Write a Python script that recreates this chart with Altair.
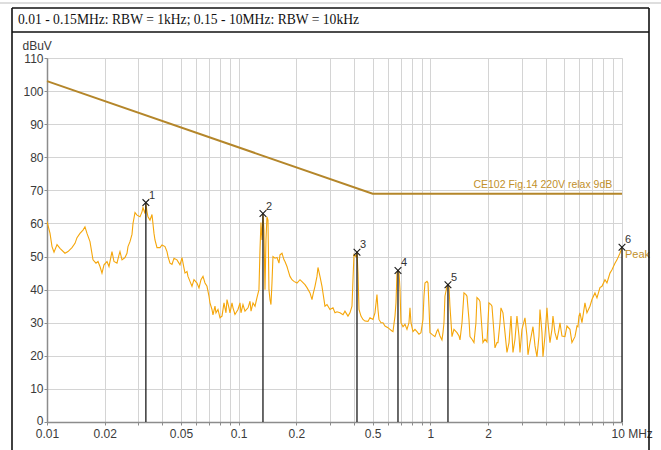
import altair as alt
import pandas as pd

# ---------------- data ----------------
freq_mhz = [
    0.0100, 0.01037, 0.01062, 0.01088, 0.01128, 0.01169, 0.01241, 0.01287, 0.0135, 0.0140,
    0.01434, 0.01486, 0.01541, 0.01578, 0.01617, 0.01676, 0.01738, 0.01801, 0.01845, 0.0189,
    0.01936, 0.01983, 0.02056, 0.02106, 0.02183, 0.02236, 0.02318, 0.02375, 0.02403, 0.02462,
    0.02552, 0.02614, 0.02646, 0.0271, 0.02776, 0.0281, 0.02878, 0.02948, 0.03056, 0.0313,
    0.03168, 0.03245, 0.03284, 0.03324, 0.03364, 0.03446, 0.0353, 0.03616, 0.03659, 0.03749,
    0.03886, 0.03981, 0.04127, 0.04227, 0.04279, 0.04382, 0.04489, 0.04598, 0.04766, 0.04942,
    0.05062, 0.05185, 0.05248, 0.05375, 0.0544, 0.05572, 0.05707, 0.05846, 0.06061, 0.06209,
    0.06359, 0.06515, 0.06673, 0.06835, 0.07001, 0.07085, 0.07257, 0.07345, 0.07524, 0.07614,
    0.078, 0.07989, 0.08185, 0.08384, 0.08587, 0.08692, 0.08903, 0.0901, 0.09229, 0.09342,
    0.09568, 0.09918, 0.1016, 0.1028, 0.1053, 0.1079, 0.1119, 0.1146, 0.116, 0.1188,
    0.1217, 0.1246, 0.1276, 0.1292, 0.1307, 0.1323, 0.1339, 0.1355, 0.1372, 0.1388,
    0.1405, 0.1422, 0.1439, 0.1457, 0.1474, 0.1492, 0.151, 0.1547, 0.1585, 0.1623,
    0.1643, 0.1683, 0.1724, 0.1744, 0.1787, 0.1808, 0.1852, 0.1897, 0.1943, 0.2015,
    0.2089, 0.214, 0.2218, 0.2272, 0.2356, 0.2413, 0.2442, 0.2501, 0.2562, 0.2593,
    0.2656, 0.2721, 0.2787, 0.282, 0.2889, 0.2995, 0.3105, 0.3181, 0.3259, 0.3378,
    0.3502, 0.3586, 0.3718, 0.3808, 0.3902, 0.3949, 0.3996, 0.4093, 0.4143, 0.4193,
    0.4244, 0.4346, 0.4452, 0.456, 0.4728, 0.4843, 0.502, 0.5142, 0.5267, 0.5331,
    0.5395, 0.5527, 0.5661, 0.5799, 0.6012, 0.6158, 0.6308, 0.6384, 0.654, 0.6619,
    0.6699, 0.678, 0.6862, 0.6945, 0.7029, 0.72, 0.7375, 0.7553, 0.7737, 0.783,
    0.7925, 0.8117, 0.8315, 0.8517, 0.8723, 0.8936, 0.9154, 0.9264, 0.9376, 0.9605,
    0.9721, 0.9838, 0.9957, 1.020, 1.057, 1.083, 1.096, 1.123, 1.150, 1.164,
    1.178, 1.192, 1.221, 1.236, 1.251, 1.266, 1.297, 1.328, 1.377, 1.411,
    1.428, 1.463, 1.498, 1.535, 1.553, 1.591, 1.610, 1.649, 1.689, 1.730,
    1.751, 1.794, 1.816, 1.860, 1.882, 1.928, 1.975, 1.998, 2.022, 2.072,
    2.097, 2.148, 2.174, 2.227, 2.254, 2.309, 2.336, 2.393, 2.452, 2.511,
    2.573, 2.635, 2.699, 2.765, 2.831, 2.901, 2.936, 3.007, 3.117, 3.193,
    3.232, 3.311, 3.432, 3.516, 3.601, 3.689, 3.733, 3.824, 3.870, 3.963,
    4.061, 4.110, 4.209, 4.311, 4.363, 4.469, 4.578, 4.690, 4.746, 4.862,
    5.040, 5.162, 5.351, 5.481, 5.683, 5.821, 5.891, 5.962, 6.035, 6.181,
    6.408, 6.564, 6.805, 6.971, 7.227, 7.403, 7.674, 7.861, 8.150, 8.347,
    8.655, 8.866, 9.190, 9.413, 9.757, 10.0,
]
level_dbuv = [
    60.6, 57.0, 53.0, 51.3, 53.6, 52.5, 51.0, 51.5, 52.7, 54.0,
    55.7, 57.0, 58.0, 59.0, 57.0, 54.5, 49.0, 48.0, 48.5, 47.0,
    45.0, 47.5, 48.5, 47.0, 51.5, 48.5, 48.0, 50.5, 51.5, 49.0,
    49.7, 51.0, 53.0, 54.5, 56.7, 60.0, 63.3, 62.5, 62.0, 63.5,
    64.8, 63.0, 65.8, 63.5, 62.0, 61.0, 62.7, 57.0, 55.0, 52.7,
    52.7, 53.5, 53.0, 51.5, 50.0, 48.0, 47.6, 49.5, 49.0, 47.5,
    49.7, 46.5, 45.0, 45.5, 44.0, 42.5, 41.0, 43.0, 42.0, 40.5,
    43.0, 44.0, 42.0, 41.0, 38.0, 36.0, 34.0, 32.4, 35.0, 33.0,
    34.0, 31.5, 32.0, 36.0, 33.0, 37.0, 34.5, 33.0, 36.0, 34.5,
    32.5, 34.0, 36.0, 33.0, 35.5, 33.5, 34.5, 36.5, 33.5, 36.0,
    35.0, 37.6, 40.0, 52.0, 60.3, 55.0, 62.7, 58.0, 40.0, 55.0,
    62.0, 61.0, 40.0, 37.0, 35.5, 42.0, 50.0, 49.5, 49.7, 48.0,
    50.5, 51.0, 49.0, 48.5, 47.0, 46.0, 44.0, 43.0, 42.5, 42.0,
    43.0, 42.4, 41.5, 40.6, 39.0, 37.0, 38.5, 41.0, 44.0, 46.7,
    44.0, 41.0, 37.0, 35.0, 35.5, 34.0, 34.5, 33.0, 33.3, 33.0,
    32.4, 33.5, 32.0, 33.0, 35.0, 43.0, 50.6, 50.0, 51.5, 45.0,
    34.0, 32.0, 31.0, 30.5, 30.4, 31.5, 31.0, 33.0, 38.5, 34.0,
    31.0, 30.0, 30.0, 29.0, 28.5, 28.0, 27.5, 27.3, 32.0, 36.0,
    45.0, 45.5, 45.5, 40.0, 30.0, 28.8, 29.5, 28.0, 30.0, 34.5,
    30.0, 27.3, 28.0, 27.3, 26.5, 27.0, 31.0, 38.0, 42.0, 42.5,
    42.0, 35.0, 27.0, 26.5, 25.8, 27.5, 28.0, 26.0, 24.8, 27.0,
    30.0, 38.0, 41.0, 41.5, 41.0, 35.0, 25.8, 28.0, 27.0, 26.0,
    24.8, 30.0, 39.0, 38.5, 38.0, 31.0, 25.8, 25.0, 24.0, 30.0,
    37.6, 37.0, 36.4, 28.0, 24.0, 25.0, 24.2, 30.0, 36.0, 35.5,
    35.0, 27.0, 22.4, 24.0, 24.0, 30.0, 34.5, 33.0, 27.0, 21.0,
    24.0, 32.0, 21.0, 25.0, 32.0, 26.0, 21.0, 28.0, 31.5, 26.0,
    20.3, 24.0, 28.8, 23.0, 19.7, 26.0, 34.0, 27.0, 19.7, 26.0,
    34.5, 30.0, 24.0, 28.0, 32.0, 27.0, 24.8, 28.0, 30.0, 26.0,
    25.8, 29.0, 28.0, 24.0, 25.8, 29.0, 28.8, 32.0, 33.0, 30.0,
    36.0, 33.0, 35.0, 37.0, 39.0, 37.5, 40.6, 41.0, 43.0, 42.0,
    45.0, 46.0, 48.0, 49.0, 51.0, 52.7,
]

limit_freq = [0.01, 0.5, 10.0]
limit_level = [103, 69, 69]
limit_name = "CE102 Fig.14 220V relax 9dB"

peak_id = ["1", "2", "3", "4", "5", "6"]
peak_freq = [0.0328, 0.1339, 0.4143, 0.678, 1.236, 10.0]
peak_level = [66.3, 63.0, 51.3, 45.8, 41.5, 52.8]

title_text = "0.01 - 0.15MHz: RBW = 1kHz; 0.15 - 10MHz: RBW = 10kHz"
y_ticks = list(range(0, 111, 10))
x_grid = [round(m * 10 ** e, 4) for e in (-2, -1, 0) for m in range(1, 10)] + [10.0]
x_label_vals = [0.01, 0.02, 0.05, 0.1, 0.2, 0.5, 1, 2]

TRACE = "#F5A60A"
LIMIT = "#B4862A"
LABEL_GOLD = "#C18F2A"
FONT = "Liberation Sans"

trace_df = pd.DataFrame({"f": freq_mhz, "v": level_dbuv})
limit_df = pd.DataFrame({"f": limit_freq, "v": limit_level})
peak_df = pd.DataFrame({"id": peak_id, "f": peak_freq, "v": peak_level})

xscale = alt.Scale(type="log", domain=[0.01, 10], nice=False)
yscale = alt.Scale(domain=[0, 110], nice=False, zero=False)

label_expr = (
    "datum.value == 10 ? '10 MHz' : (indexof(" + str(x_label_vals) +
    ", datum.value) >= 0 ? toString(datum.value) : '')"
)

x_axis = alt.Axis(
    values=x_grid, labelExpr=label_expr, title=None, grid=True,
    gridColor="#d4d4d4", gridWidth=1, domainColor="#8c8c8c", domainWidth=1.5,
    tickColor="#8c8c8c", tickSize=3, labelFont=FONT, labelFontSize=12,
    labelColor="#3a3a3a", labelPadding=3, labelOverlap=False, labelBound=False,
    labelFlush=False,
    labelAlign={"condition": {"test": "datum.value == 10", "value": "left"}, "value": "center"},
    labelOffset={"condition": {"test": "datum.value == 10", "value": -11}, "value": 0},
)
y_axis = alt.Axis(
    values=y_ticks, title="dBuV", titleAngle=0, titleX=-25, titleY=-13,
    titleAlign="left", titleBaseline="middle", titleFont=FONT, titleFontSize=12,
    titleFontWeight="normal", titleColor="#3a3a3a",
    grid=True, gridColor="#d4d4d4", gridWidth=1, domainColor="#8c8c8c",
    domainWidth=1.5, tickColor="#8c8c8c", tickSize=3, labelFont=FONT,
    labelFontSize=12, labelColor="#3a3a3a", labelPadding=1, labelFlush=False,
    labelOverlap=False, labelBound=False,
    labelOffset={"condition": {"test": "datum.value == 0", "value": -2}, "value": 0},
)

X = alt.X("f:Q", scale=xscale, axis=x_axis)
Y = alt.Y("v:Q", scale=yscale, axis=y_axis)

trace = alt.Chart(trace_df).mark_line(color=TRACE, strokeWidth=1.1, clip=True).encode(
    x=X, y=Y, order=alt.Order("f:Q"),
)
limit = alt.Chart(limit_df).mark_line(color=LIMIT, strokeWidth=2).encode(x=X, y=Y)
limit_label = alt.Chart(pd.DataFrame({"f": [8.9], "v": [69], "t": [limit_name]})).mark_text(
    align="right", baseline="bottom", dy=-4, font=FONT, fontSize=10.5, color=LABEL_GOLD
).encode(x=X, y=Y, text="t:N")

peak_rules = alt.Chart(peak_df).mark_rule(color="#1a1a1a", strokeWidth=1.3).encode(
    x=X, y=Y, y2=alt.datum(0)
)
peak_marks = alt.Chart(peak_df).mark_point(
    shape="M-1,-1L1,1M-1,1L1,-1", size=45, filled=False, color="#1a1a1a", strokeWidth=1.1,
    opacity=1
).encode(x=X, y=Y)
peak_text = alt.Chart(peak_df).mark_text(
    align="left", baseline="bottom", dx=3, dy=-2, font=FONT, fontSize=11, color="#333333"
).encode(x=X, y=Y, text="id:N")

peak_name = alt.Chart(pd.DataFrame({"f": [10.0], "v": [50.6], "t": ["Peak"]})).mark_text(
    align="left", baseline="middle", dx=3, font=FONT, fontSize=11, color=LABEL_GOLD
).encode(x=X, y=Y, text="t:N")

# decorative frame around the figure (pixel positions, not data)
one = pd.DataFrame({"a": [0]})
frame_l = alt.Chart(one).mark_rule(color="#111111", strokeWidth=1.6).encode(
    x=alt.value(-35), y=alt.value(-50), y2=alt.value(400)
)
frame_r = alt.Chart(one).mark_rule(color="#111111", strokeWidth=1.6).encode(
    x=alt.value(602), y=alt.value(-50), y2=alt.value(400)
)
frame_t = alt.Chart(one).mark_rule(color="#111111", strokeWidth=1.4).encode(
    y=alt.value(-50), x=alt.value(-35), x2=alt.value(602)
)
frame_s = alt.Chart(one).mark_rule(color="#111111", strokeWidth=1.4).encode(
    y=alt.value(-26), x=alt.value(-35), x2=alt.value(602)
)
top_gray = alt.Chart(one).mark_rule(color="#bdbdbd", strokeWidth=1).encode(
    y=alt.value(-55), x=alt.value(-47), x2=alt.value(614)
)
title = alt.Chart(pd.DataFrame({"t": [title_text]})).mark_text(
    align="left", baseline="middle", font="Liberation Serif", fontSize=13.6, color="#111111"
).encode(x=alt.value(-29), y=alt.value(-38), text="t:N")

chart = alt.layer(
    trace, limit, limit_label, peak_rules, peak_marks, peak_text, peak_name,
    frame_l, frame_r, frame_t, frame_s, top_gray, title
).properties(
    width=575, height=364,
    autosize=alt.AutoSizeParams(type="none"),
    padding={"left": 47, "top": 58, "right": 39, "bottom": 28},
).configure_view(stroke="#cfcfcf").configure(background="white")

chart.save("out.html", embed_options={"renderer": "svg", "actions": False})
